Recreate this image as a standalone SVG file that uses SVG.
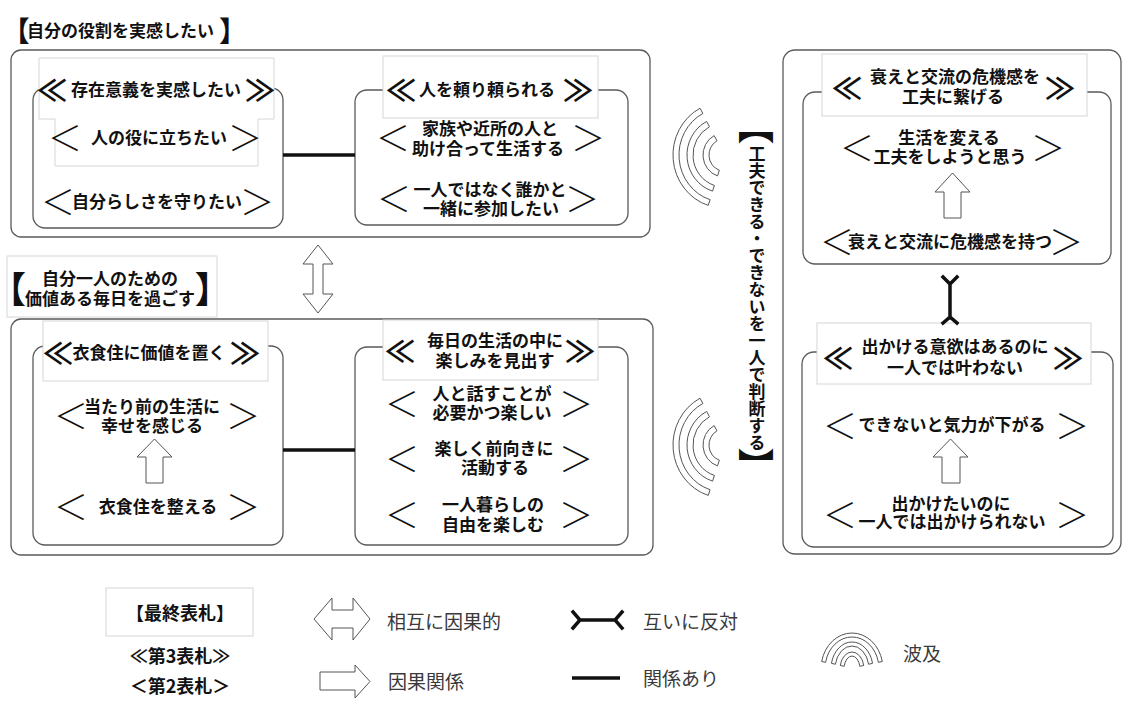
<svg xmlns="http://www.w3.org/2000/svg" width="1124" height="702" viewBox="0 0 1124 702">
<defs>
<style>
.box{fill:#fff;stroke:#5a5a5a;stroke-width:1.3}
.lbl{fill:#fff;stroke:#d6d6d6;stroke-width:1}
.t{font-family:"Noto Sans CJK JP","Noto Sans CJK SC",sans-serif;font-weight:700;font-size:17px;text-anchor:middle;dominant-baseline:central;fill:#111}
.c{font-family:"Noto Sans CJK JP","Noto Sans CJK SC",sans-serif;font-weight:300;font-size:34px;text-anchor:middle;dominant-baseline:central;fill:#111}
.d{font-family:"Noto Sans CJK JP","Noto Sans CJK SC",sans-serif;font-weight:700;font-size:30px;text-anchor:middle;dominant-baseline:central;fill:#111}
.b{font-family:"Noto Sans CJK JP","Noto Sans CJK SC",sans-serif;font-weight:700;text-anchor:middle;dominant-baseline:central;fill:#111}
.lg{font-family:"Noto Sans CJK JP","Noto Sans CJK SC",sans-serif;font-weight:400;font-size:19px;dominant-baseline:central;fill:#3a3a3a}
.rel{stroke:#111;stroke-width:3.5;fill:none}
.opp{stroke:#111;stroke-width:3.5;fill:none;stroke-linecap:square}
.arw{fill:#fff;stroke:#555;stroke-width:1}
.wv{fill:#fff;stroke:#555;stroke-width:1}
</style>
<g id="wave">
<path d="M-23.94,-46.79 A51,53 0 0 0 -15.76,50.41 L-13.91,44.70 A45,47 0 0 1 -21.13,-41.50 Z"/>
<path d="M-17.37,-33.55 A37,38 0 0 0 -11.43,36.14 L-9.58,30.44 A31,32 0 0 1 -14.55,-28.25 Z"/>
<path d="M-9.86,-19.42 A21,22 0 0 0 -6.49,20.92 L-4.64,15.22 A15,16 0 0 1 -7.04,-14.13 Z"/>
</g>
<g id="wave-small">
<path d="M-7.48,-30.32 A36,31 0 0 0 -7.48,30.32 L-6.65,26.41 A32,27 0 0 1 -6.65,-26.41 Z"/>
<path d="M-5.61,-20.54 A27,21 0 0 0 -5.61,20.54 L-4.78,16.63 A23,17 0 0 1 -4.78,-16.63 Z"/>
<path d="M-3.53,-11.74 A17,12 0 0 0 -3.53,11.74 L-2.70,7.82 A13,8 0 0 1 -2.70,-7.82 Z"/>
</g>
</defs>
<rect width="1124" height="702" fill="#fff"/>

<!-- section 1 -->
<g id="title-role">
<text class="b" x="15.8" y="30" font-size="28">【</text>
<text class="t" x="120.5" y="29">自分の役割を実感したい</text>
<text class="b" x="233" y="30" font-size="28">】</text>
</g>
<g id="box-role"><rect class="box" x="11" y="50" width="639" height="187" rx="10"/></g>
<g id="node-sonzai">
<rect class="box" x="33" y="88" width="250" height="140" rx="12"/>
<path class="lbl" d="M39,58 H274 V119 H258 V166 H55 V119 H39 Z"/>
<text class="d" x="52" y="88">≪</text><text class="t" x="156" y="88">存在意義を実感したい</text><text class="d" x="260" y="88">≫</text>
<text class="c" x="65" y="136">＜</text><text class="t" x="159" y="136">人の役に立ちたい</text><text class="c" x="245" y="136">＞</text>
<text class="c" x="58" y="200">＜</text><text class="t" x="157" y="200">自分らしさを守りたい</text><text class="c" x="257" y="200">＞</text>
</g>
<g id="node-tayori">
<rect class="box" x="355" y="90" width="273" height="135" rx="12"/>
<rect class="lbl" x="383" y="56" width="215" height="62"/>
<text class="d" x="401" y="88">≪</text><text class="t" x="487" y="88">人を頼り頼られる</text><text class="d" x="578" y="88">≫</text>
<text class="c" x="393" y="136">＜</text><text class="t"><tspan x="490" y="127">家族や近所の人と</tspan><tspan x="488" y="147">助け合って生活する</tspan></text><text class="c" x="588" y="136">＞</text>
<text class="c" x="394" y="197">＜</text><text class="t"><tspan x="490" y="188">一人ではなく誰かと</tspan><tspan x="491" y="207">一緒に参加したい</tspan></text><text class="c" x="582" y="197">＞</text>
</g>

<!-- section 2 -->
<g id="title-kachi">
<rect class="lbl" x="7" y="256" width="210" height="61"/>
<text class="b" x="8" y="287" font-size="36">【</text>
<text class="t" font-size="16"><tspan x="110" y="277">自分一人のための</tspan><tspan x="110" y="297">価値ある毎日を過ごす</tspan></text>
<text class="b" x="212.8" y="287" font-size="36">】</text>
</g>
<g id="box-kachi"><rect class="box" x="11" y="319" width="642" height="236" rx="10"/></g>
<g id="node-ishokuju">
<rect class="box" x="33" y="346" width="250" height="199" rx="12"/>
<rect class="lbl" x="43" y="321" width="225" height="60"/>
<text class="d" x="58" y="351">≪</text><text class="t" x="149" y="351">衣食住に価値を置く</text><text class="d" x="245" y="351">≫</text>
<text class="c" x="71" y="414">＜</text><text class="t"><tspan x="152" y="405">当たり前の生活に</tspan><tspan x="152" y="424">幸せを感じる</tspan></text><text class="c" x="243" y="414">＞</text>
<text class="c" x="71" y="505">＜</text><text class="t" x="158" y="505">衣食住を整える</text><text class="c" x="243" y="505">＞</text>
</g>
<g id="node-tanoshimi">
<rect class="box" x="355" y="347" width="273" height="198" rx="12"/>
<rect class="lbl" x="383" y="320" width="215" height="60"/>
<text class="d" x="400" y="349">≪</text><text class="t"><tspan x="495" y="339">毎日の生活の中に</tspan><tspan x="495" y="359">楽しみを見出す</tspan></text><text class="d" x="580" y="349">≫</text>
<text class="c" x="402" y="402">＜</text><text class="t"><tspan x="492" y="392">人と話すことが</tspan><tspan x="492" y="411">必要かつ楽しい</tspan></text><text class="c" x="576" y="402">＞</text>
<text class="c" x="402" y="457">＜</text><text class="t"><tspan x="494" y="447">楽しく前向きに</tspan><tspan x="495" y="466">活動する</tspan></text><text class="c" x="576" y="457">＞</text>
<text class="c" x="402" y="513">＜</text><text class="t"><tspan x="493" y="503">一人暮らしの</tspan><tspan x="493" y="523">自由を楽しむ</tspan></text><text class="c" x="576" y="513">＞</text>
</g>

<!-- section 3 -->
<g id="title-kufu">
<text class="b" x="756" y="124" font-size="36">︻</text>
<text class="t" x="757" y="145" style="writing-mode:vertical-rl;text-anchor:start">工夫できる・できないを一人で判断する</text>
<text class="b" x="756" y="464" font-size="36">︼</text>
</g>
<g id="box-kufu"><rect class="box" x="783" y="50" width="338" height="504" rx="12"/></g>
<g id="node-otoroe">
<rect class="box" x="803" y="92" width="308" height="172" rx="12"/>
<rect class="lbl" x="822" y="54" width="265" height="62"/>
<text class="d" x="847" y="86">≪</text><text class="t"><tspan x="955" y="75">衰えと交流の危機感を</tspan><tspan x="953" y="95">工夫に繋げる</tspan></text><text class="d" x="1060" y="86">≫</text>
<text class="c" x="857" y="146">＜</text><text class="t"><tspan x="949" y="136">生活を変える</tspan><tspan x="950" y="155">工夫をしようと思う</tspan></text><text class="c" x="1048" y="146">＞</text>
<text class="c" x="837" y="240">＜</text><text class="t" x="950" y="240">衰えと交流に危機感を持つ</text><text class="c" x="1066" y="240">＞</text>
</g>
<g id="node-dekakeru">
<rect class="box" x="802" y="352" width="311" height="195" rx="12"/>
<rect class="lbl" x="817" y="323" width="274" height="61"/>
<text class="d" x="838" y="356">≪</text><text class="t"><tspan x="955" y="345">出かける意欲はあるのに</tspan><tspan x="955" y="366">一人では叶わない</tspan></text><text class="d" x="1068" y="356">≫</text>
<text class="c" x="840" y="424">＜</text><text class="t" x="952" y="423">できないと気力が下がる</text><text class="c" x="1072" y="424">＞</text>
<text class="c" x="840" y="513">＜</text><text class="t"><tspan x="951" y="502">出かけたいのに</tspan><tspan x="952" y="520">一人では出かけられない</tspan></text><text class="c" x="1072" y="513">＞</text>
</g>

<!-- connectors -->
<g id="connectors">
<line class="rel" x1="283" y1="155" x2="355" y2="155"/>
<line class="rel" x1="283" y1="450" x2="355" y2="450"/>
<path class="arw" d="M318,245 L333,264 L323,264 L323,294 L333,294 L318,313 L303,294 L313,294 L313,264 L303,264 Z"/>
<path class="arw" d="M154.5,439 L172,457 L163,457 L163,483 L146,483 L146,457 L137,457 Z"/>
<path class="arw" d="M952.5,173 L970,192 L961,192 L961,218 L944,218 L944,192 L935,192 Z"/>
<path class="arw" d="M950.5,439 L968,457 L960,457 L960,483 L942,483 L942,457 L933,457 Z"/>
<path class="opp" d="M950,284 V318 M943,277 L950,284 L957,277 M943,323 L950,317 L957,323"/>
<use href="#wave" class="wv" transform="translate(724,155)"/>
<use href="#wave" class="wv" transform="translate(724,445)"/>
</g>

<!-- legend -->
<g id="legend">
<rect class="lbl" x="106" y="588" width="147" height="48"/>
<text class="b" x="180" y="612" font-size="18">【最終表札】</text>
<text class="b" x="180" y="655" font-size="18">≪第3表札≫</text>
<text class="b" x="180" y="685" font-size="18">＜第2表札＞</text>
<path class="arw" d="M314,619 L332,598 L332,610 L353,610 L353,598 L370,619 L353,640 L353,628 L332,628 L332,640 Z"/>
<text class="lg" x="387" y="620">相互に因果的</text>
<path class="arw" d="M320,672 L355,672 L355,665 L370,681.5 L355,698 L355,690 L320,690 Z"/>
<text class="lg" x="388" y="680">因果関係</text>
<path class="opp" d="M580,620 H615 M573,612 L580,620 L573,628 M622,612 L615,620 L622,628"/>
<text class="lg" x="643" y="620">互いに反対</text>
<line class="rel" x1="572" y1="678" x2="620" y2="678" stroke-width="4"/>
<text class="lg" x="643" y="677">関係あり</text>
<use href="#wave-small" class="wv" transform="translate(852,669) rotate(90)"/>
<text class="lg" x="903" y="652">波及</text>
</g>
</svg>
